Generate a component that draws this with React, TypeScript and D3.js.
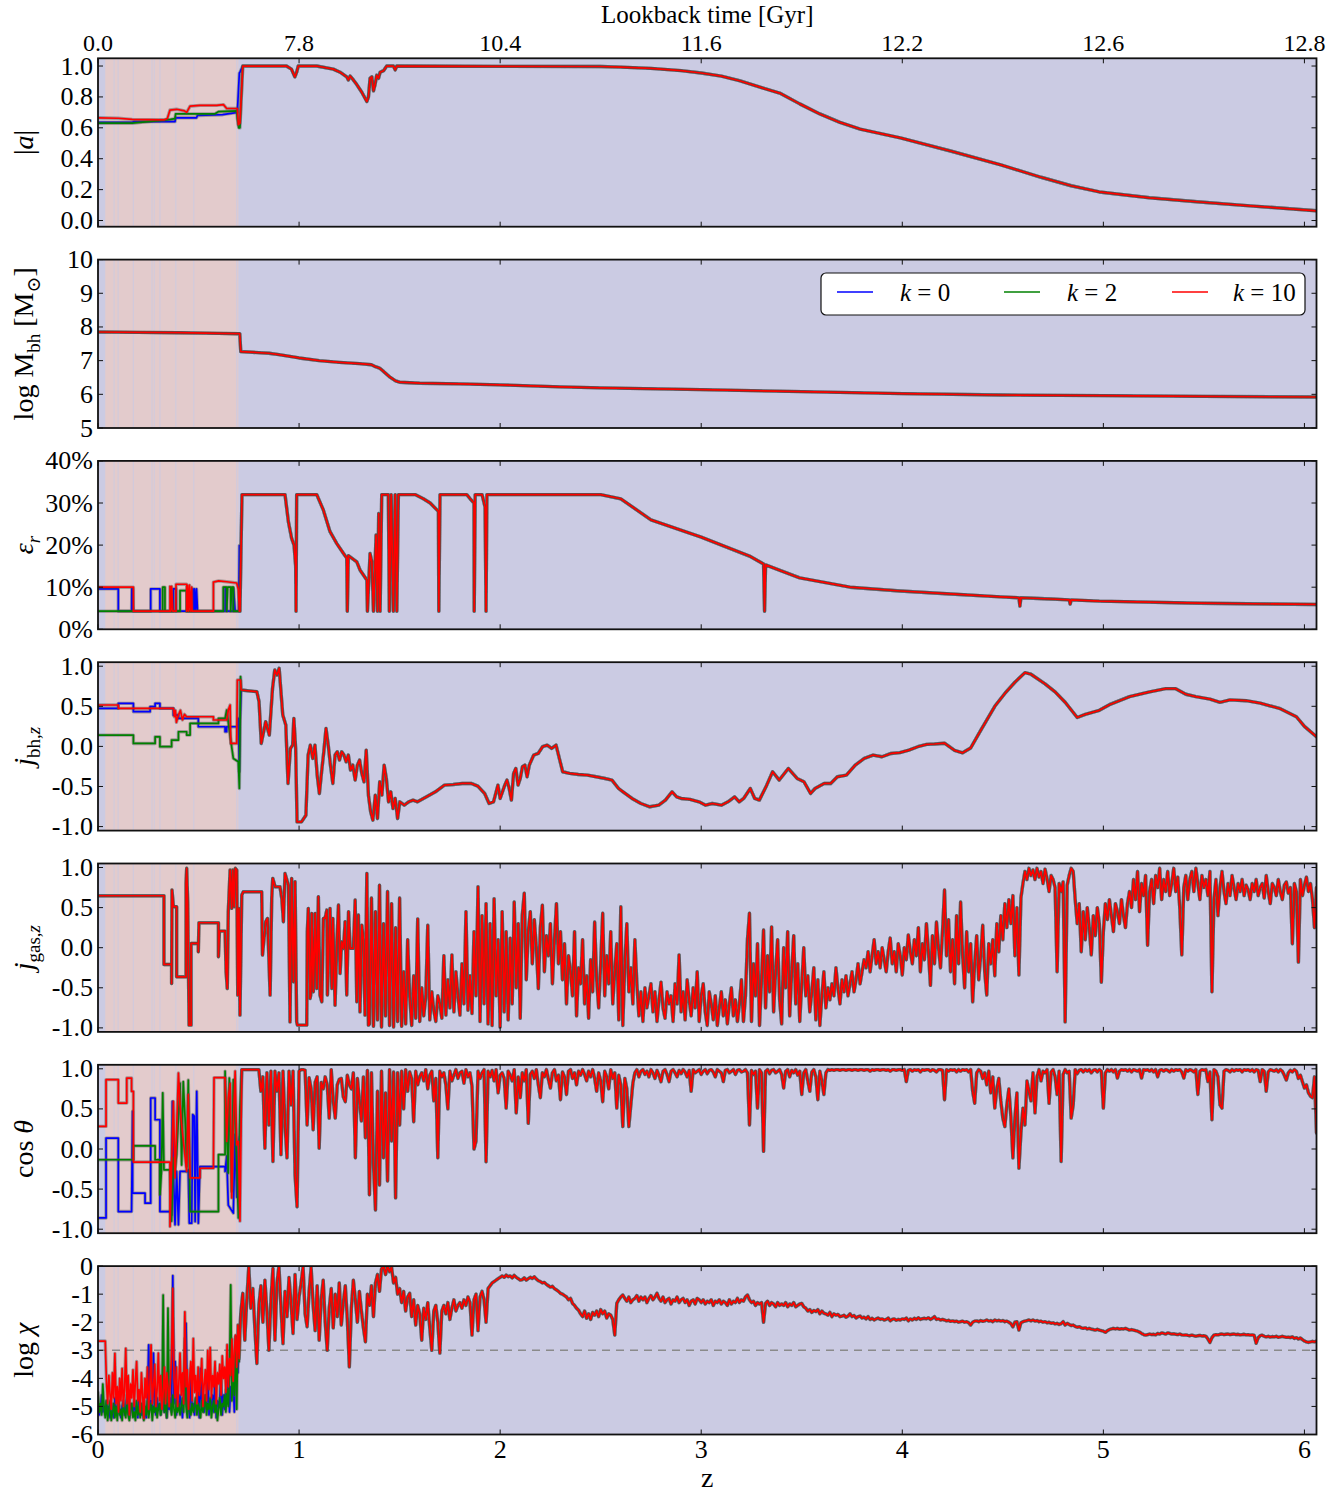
import React from "react";
import * as d3 from "d3";

type Pt = [number, number];

// ---------------------------------------------------------------------------
// Axes
// ---------------------------------------------------------------------------
const zTicks = [0, 1, 2, 3, 4, 5, 6];
const lookbackLabels = ["0.0", "7.8", "10.4", "11.6", "12.2", "12.6", "12.8"];
const zDomain: [number, number] = [0, 6.06];

// shaded epoch (pink) and the thin gaps inside it
const pinkBand: [number, number] = [0.036, 0.698];
const bandGaps = [0.08, 0.1, 0.176, 0.268, 0.28, 0.308, 0.387, 0.476, 0.69];

const kLabels = ["0", "2", "10"];
const kColors = ["#0000ff", "#008000", "#ff0000"];

// helper: values sampled on a regular z grid
const onGrid = (z0: number, dz: number, vals: number[]): Pt[] =>
  vals.map((v, i) => [z0 + i * dz, v] as Pt);

// ---------------------------------------------------------------------------
// |a| : spin magnitude
// ---------------------------------------------------------------------------
const spinTicks = [0, 0.2, 0.4, 0.6, 0.8, 1.0];
const spinK0: Pt[] = [[0, 0.635], [0.17, 0.635], [0.18, 0.64], [0.383, 0.64], [0.386, 0.665], [0.49, 0.665], [0.495, 0.68], [0.62, 0.685], [0.67, 0.695], [0.693, 0.7], [0.703, 0.955], [0.706, 0.96]];
const spinK2: Pt[] = [[0, 0.63], [0.17, 0.63], [0.25, 0.64], [0.33, 0.65], [0.36, 0.655], [0.383, 0.66], [0.386, 0.69], [0.58, 0.69], [0.6, 0.705], [0.69, 0.71], [0.693, 0.66], [0.7, 0.6], [0.706, 0.6]];
const spinK10: Pt[] = [[0, 0.665], [0.1, 0.662], [0.17, 0.655], [0.33, 0.652], [0.345, 0.66], [0.358, 0.715], [0.391, 0.72], [0.43, 0.71], [0.441, 0.7], [0.458, 0.74], [0.507, 0.745], [0.59, 0.745], [0.624, 0.75], [0.64, 0.725], [0.693, 0.725], [0.698, 0.62], [0.706, 0.63]];
const spinLate: Pt[] = [[0.72, 1.0], [0.937, 1.0], [0.962, 0.98], [0.979, 0.93], [0.988, 0.96], [0.996, 1.0], [1.087, 1.0], [1.17, 0.98], [1.204, 0.96], [1.237, 0.93], [1.245, 0.91], [1.254, 0.935], [1.27, 0.91], [1.287, 0.88], [1.312, 0.83], [1.337, 0.77], [1.345, 0.8], [1.353, 0.92], [1.362, 0.93], [1.37, 0.84], [1.378, 0.88], [1.386, 0.94], [1.395, 0.92], [1.403, 0.96], [1.42, 0.97], [1.436, 1.0], [1.469, 1.0], [1.478, 0.975], [1.486, 1.0], [2.0, 0.998], [2.5, 0.997], [2.6, 0.993], [2.75, 0.985], [2.9, 0.97], [3.0, 0.955], [3.1, 0.935], [3.19, 0.905], [3.3, 0.86], [3.39, 0.825], [3.49, 0.755], [3.59, 0.69], [3.69, 0.635], [3.79, 0.592], [3.99, 0.535], [4.24, 0.45], [4.49, 0.36], [4.69, 0.28], [4.84, 0.225], [4.98, 0.185], [5.23, 0.147], [5.48, 0.12], [5.73, 0.095], [6.06, 0.063]];

// ---------------------------------------------------------------------------
// log M_bh
// ---------------------------------------------------------------------------
const massTicks = [5, 6, 7, 8, 9, 10];
const massEarly: Pt[] = [[0, 7.85], [0.2, 7.84], [0.4, 7.83], [0.6, 7.81], [0.7, 7.8], [0.705, 7.8]];
const massLate: Pt[] = [[0.71, 7.27], [0.85, 7.22], [0.9, 7.18], [1.0, 7.08], [1.1, 7.0], [1.2, 6.95], [1.3, 6.91], [1.36, 6.88], [1.38, 6.82], [1.4, 6.78], [1.42, 6.68], [1.45, 6.52], [1.48, 6.4], [1.5, 6.36], [1.6, 6.33], [1.8, 6.31], [2.0, 6.28], [2.3, 6.22], [2.5, 6.19], [3.0, 6.14], [3.5, 6.08], [4.0, 6.02], [4.5, 5.98], [5.0, 5.96], [5.5, 5.94], [6.06, 5.92]];

// ---------------------------------------------------------------------------
// epsilon_r (%)
// ---------------------------------------------------------------------------
const effTicks = [0, 10, 20, 30, 40];
const effK0: Pt[] = [[0, 9.6], [0.101, 9.6], [0.101, 4.3], [0.167, 4.3], [0.168, 9.6], [0.172, 9.6], [0.176, 4.3], [0.262, 4.3], [0.262, 9.6], [0.308, 9.6], [0.308, 4.3], [0.375, 4.3], [0.375, 9.6], [0.388, 9.6], [0.388, 4.3], [0.471, 4.3], [0.472, 9.6], [0.476, 4.3], [0.48, 9.6], [0.485, 4.3], [0.49, 9.6], [0.495, 4.3], [0.632, 4.3], [0.633, 9.8], [0.64, 4.3], [0.673, 4.3], [0.674, 9.8], [0.682, 4.3], [0.7, 4.3], [0.703, 19.9], [0.706, 4.3]];
const effK2: Pt[] = [[0, 4.3], [0.322, 4.3], [0.322, 10], [0.333, 10], [0.333, 4.3], [0.408, 4.3], [0.408, 9.2], [0.441, 9.2], [0.441, 4.3], [0.623, 4.3], [0.623, 10], [0.64, 10], [0.64, 4.3], [0.645, 10], [0.66, 10], [0.66, 4.3], [0.665, 10], [0.673, 10], [0.673, 4.3], [0.706, 4.3]];
const effK10: Pt[] = [[0, 10], [0.176, 10], [0.176, 4.3], [0.358, 4.3], [0.358, 10.2], [0.362, 4.3], [0.366, 10.2], [0.372, 4.3], [0.388, 4.3], [0.388, 10.7], [0.441, 10.7], [0.441, 4.3], [0.445, 10.5], [0.45, 4.3], [0.455, 10.5], [0.46, 4.3], [0.466, 10], [0.468, 4.3], [0.574, 4.3], [0.574, 11.2], [0.6, 11.5], [0.64, 11.3], [0.69, 11], [0.698, 9.5], [0.703, 4.3], [0.706, 4.3]];
const effLate: Pt[] = [[0.716, 32], [0.93, 32], [0.947, 25.5], [0.963, 21.6], [0.975, 20], [0.983, 15], [0.985, 4.3], [0.988, 32], [1.088, 32], [1.121, 28.3], [1.154, 23.2], [1.187, 20.4], [1.221, 18], [1.237, 16.9], [1.24, 4.3], [1.245, 17.5], [1.287, 16], [1.303, 14.1], [1.337, 11.7], [1.34, 4.3], [1.353, 18], [1.362, 16], [1.37, 4.3], [1.383, 22.4], [1.39, 4.3], [1.396, 27.5], [1.403, 4.3], [1.411, 32], [1.444, 32], [1.449, 4.3], [1.458, 32], [1.469, 4.3], [1.478, 32], [1.486, 4.3], [1.494, 32], [1.577, 32], [1.618, 31], [1.652, 30], [1.693, 28], [1.695, 4.3], [1.701, 32], [1.834, 32], [1.851, 31], [1.87, 30], [1.871, 4.3], [1.876, 32], [1.91, 32], [1.925, 29], [1.93, 4.3], [1.934, 32], [2.5, 32], [2.6, 31], [2.75, 26], [3.0, 21.9], [3.24, 17.4], [3.31, 15.5], [3.315, 4.3], [3.32, 15.3], [3.49, 12.2], [3.74, 10], [3.99, 9.1], [4.24, 8.4], [4.49, 7.7], [4.58, 7.5], [4.585, 5.5], [4.59, 7.5], [4.74, 7.2], [4.83, 7.0], [4.835, 6.0], [4.84, 7.0], [4.98, 6.7], [5.48, 6.2], [6.06, 5.9]];

// ---------------------------------------------------------------------------
// j_bh,z
// ---------------------------------------------------------------------------
const unitTicks = [-1, -0.5, 0, 0.5, 1];
const jbhK0: Pt[] = [[0, 0.474], [0.101, 0.474], [0.101, 0.537], [0.176, 0.537], [0.176, 0.433], [0.259, 0.433], [0.259, 0.495], [0.284, 0.495], [0.284, 0.537], [0.308, 0.537], [0.308, 0.474], [0.375, 0.474], [0.375, 0.39], [0.4, 0.39], [0.4, 0.35], [0.499, 0.35], [0.499, 0.245], [0.632, 0.245], [0.632, 0.183], [0.64, 0.183], [0.64, 0.245], [0.695, 0.245], [0.698, 0.35], [0.703, -0.317], [0.706, 0.25]];
const jbhK2: Pt[] = [[0, 0.141], [0.176, 0.141], [0.176, 0.037], [0.284, 0.037], [0.284, 0.12], [0.308, 0.12], [0.308, -0.004], [0.366, -0.004], [0.366, 0.079], [0.4, 0.079], [0.4, 0.183], [0.441, 0.183], [0.441, 0.141], [0.458, 0.141], [0.458, 0.287], [0.599, 0.287], [0.599, 0.349], [0.632, 0.349], [0.64, 0.453], [0.648, 0.3], [0.66, 0.079], [0.673, -0.15], [0.698, -0.192], [0.703, -0.525], [0.709, 0.87]];
const jbhK10: Pt[] = [[0, 0.516], [0.101, 0.516], [0.101, 0.474], [0.375, 0.474], [0.38, 0.37], [0.385, 0.45], [0.39, 0.3], [0.4, 0.39], [0.41, 0.45], [0.42, 0.33], [0.43, 0.4], [0.441, 0.37], [0.574, 0.37], [0.574, 0.329], [0.64, 0.329], [0.648, 0.453], [0.657, 0.516], [0.66, 0.037], [0.69, 0.037], [0.693, 0.828], [0.709, 0.828]];
const jbhLate: Pt[] = [[0.712, 0.703], [0.79, 0.682], [0.801, 0.557], [0.812, 0.037], [0.834, 0.308], [0.852, 0.141], [0.868, 0.724], [0.879, 0.953], [0.89, 0.89], [0.901, 0.974], [0.919, 0.391], [0.934, 0.266], [0.945, -0.462], [0.957, -0.025], [0.968, 0.016], [0.974, 0.349], [0.983, -0.025], [0.99, -0.941], [1.012, -0.941], [1.034, -0.858], [1.045, -0.108], [1.056, 0.016], [1.068, -0.15], [1.079, 0.016], [1.09, -0.358], [1.101, -0.587], [1.112, -0.316], [1.123, -0.067], [1.134, 0.224], [1.145, 0.016], [1.156, -0.233], [1.168, -0.462], [1.179, -0.108], [1.19, -0.067], [1.201, -0.171], [1.212, -0.067], [1.223, -0.108], [1.234, -0.192], [1.245, -0.108], [1.256, -0.296], [1.267, -0.233], [1.279, -0.42], [1.29, -0.233], [1.301, -0.171], [1.312, -0.337], [1.323, -0.441], [1.334, -0.046], [1.345, -0.608], [1.356, -0.816], [1.367, -0.92], [1.379, -0.608], [1.39, -0.899], [1.401, -0.441], [1.412, -0.608], [1.423, -0.233], [1.434, -0.4], [1.445, -0.691], [1.456, -0.566], [1.467, -0.774], [1.478, -0.649], [1.49, -0.899], [1.501, -0.691], [1.523, -0.733], [1.545, -0.691], [1.567, -0.67], [1.589, -0.691], [1.634, -0.629], [1.678, -0.566], [1.723, -0.483], [1.767, -0.475], [1.812, -0.462], [1.856, -0.462], [1.889, -0.495], [1.923, -0.587], [1.945, -0.712], [1.967, -0.691], [1.989, -0.483], [2.0, -0.649], [2.023, -0.483], [2.034, -0.42], [2.045, -0.525], [2.056, -0.67], [2.067, -0.337], [2.078, -0.275], [2.089, -0.483], [2.1, -0.4], [2.111, -0.254], [2.123, -0.233], [2.134, -0.379], [2.145, -0.233], [2.167, -0.108], [2.189, -0.088], [2.211, -0.004], [2.234, 0.016], [2.256, -0.025], [2.278, 0.016], [2.311, -0.316], [2.345, -0.337], [2.389, -0.35], [2.434, -0.358], [2.478, -0.379], [2.522, -0.4], [2.556, -0.42], [2.589, -0.525], [2.611, -0.566], [2.656, -0.649], [2.7, -0.712], [2.744, -0.753], [2.789, -0.733], [2.822, -0.67], [2.855, -0.566], [2.878, -0.629], [2.9, -0.649], [2.944, -0.66], [2.989, -0.691], [3.022, -0.733], [3.055, -0.712], [3.1, -0.733], [3.133, -0.691], [3.166, -0.629], [3.189, -0.691], [3.211, -0.649], [3.244, -0.525], [3.266, -0.649], [3.289, -0.67], [3.322, -0.504], [3.355, -0.316], [3.388, -0.42], [3.433, -0.275], [3.477, -0.4], [3.511, -0.441], [3.544, -0.587], [3.566, -0.525], [3.611, -0.462], [3.644, -0.462], [3.677, -0.379], [3.722, -0.358], [3.766, -0.233], [3.811, -0.15], [3.855, -0.108], [3.899, -0.129], [3.944, -0.088], [3.988, -0.078], [4.033, -0.046], [4.077, -0.004], [4.121, 0.025], [4.16, 0.03], [4.21, 0.04], [4.26, -0.05], [4.3, -0.08], [4.34, -0.02], [4.39, 0.2], [4.46, 0.5], [4.51, 0.66], [4.56, 0.8], [4.61, 0.92], [4.64, 0.9], [4.71, 0.78], [4.76, 0.68], [4.81, 0.55], [4.87, 0.36], [4.91, 0.4], [4.98, 0.45], [5.03, 0.52], [5.13, 0.62], [5.23, 0.68], [5.31, 0.72], [5.36, 0.72], [5.41, 0.65], [5.46, 0.62], [5.53, 0.59], [5.58, 0.55], [5.63, 0.58], [5.71, 0.57], [5.78, 0.54], [5.88, 0.47], [5.96, 0.37], [6.0, 0.25], [6.06, 0.12]];

// ---------------------------------------------------------------------------
// j_gas,z
// ---------------------------------------------------------------------------
const jgasEarly: Pt[] = [[0, 0.648], [0.328, 0.648], [0.328, -0.209], [0.366, -0.209], [0.366, -0.446], [0.368, 0.719], [0.375, 0.511], [0.391, 0.511], [0.391, -0.363], [0.438, -0.363], [0.438, 0.802], [0.441, 0.99], [0.446, 0.573], [0.453, -0.966], [0.463, -0.966], [0.463, 0.053], [0.499, 0.053], [0.499, -0.051], [0.502, 0.311], [0.599, 0.311], [0.599, -0.113], [0.604, 0.207], [0.632, 0.207], [0.637, -0.3], [0.643, -0.509], [0.648, 0.45], [0.657, 0.969], [0.665, 0.49], [0.67, 0.969], [0.677, 0.511], [0.683, 0.99], [0.69, 0.969], [0.695, -0.592], [0.701, 0.49], [0.706, -0.841], [0.715, 0.657]];
const jgasLateA: Pt[] = [[0.723, 0.698], [0.814, 0.698], [0.818, -0.092], [0.826, 0.116], [0.834, 0.324], [0.843, 0.365], [0.856, -0.592], [0.864, 0.615], [0.869, 0.865], [0.881, 0.76], [0.905, 0.76], [0.914, 0.615], [0.922, 0.324], [0.93, 0.927], [0.947, 0.78], [0.955, -0.925], [0.963, 0.865], [0.972, -0.425], [0.98, 0.823], [0.988, -0.925], [0.992, -0.966], [1.038, -0.966], [1.041, 0.199], [1.046, 0.49], [1.055, -0.633], [1.058, -0.59], [1.063, 0.428], [1.071, -0.55], [1.08, 0.428], [1.088, -0.509], [1.096, 0.636], [1.104, -0.59], [1.113, -0.675], [1.121, 0.365], [1.129, 0.365], [1.138, 0.469], [1.141, -0.59], [1.154, 0.49], [1.163, -0.509], [1.168, 0.365], [1.179, -0.717], [1.188, 0.074], [1.196, 0.532], [1.204, -0.321], [1.212, 0.074], [1.221, -0.009], [1.229, 0.324], [1.237, -0.59], [1.246, 0.449], [1.254, -0.009], [1.27, -0.009], [1.279, 0.594], [1.287, -0.675], [1.295, 0.407], [1.303, -0.8], [1.312, 0.282], [1.32, 0.095], [1.328, -0.841], [1.337, 0.927], [1.345, -0.966]];
const jgasLateB = [
  -0.95, 0.62, -0.98, 0.45, -0.9, 0.78, -0.99, 0.3, -0.85, 0.7,
  -0.97, 0.55, -0.99, 0.25, -0.92, 0.62, -0.98, -0.3, -0.95, 0.1,
  -0.6, -0.97, -0.35, -0.88, 0.36, -0.92, -0.5, -0.85, -0.62, 0.28,
  -0.9, -0.55, -0.78, -0.92, -0.6, -0.7, -0.88, -0.1, -0.84, -0.4,
  -0.75, -0.09, -0.8, -0.3, -0.6, -0.84, -0.2, -0.7, 0.45, -0.78,
  -0.35, -0.82, 0.2, -0.6, 0.76, -0.92, 0.4, -0.7, 0.55, -0.95,
  0.3, -0.97, 0.61, -0.6, 0.1, -0.99, 0.45, -0.8, 0.2, -0.9,
  0.12, -0.7, 0.57, -0.5, 0.3, -0.88, 0.4, 0.68, -0.4, 0.2,
  0.45, -0.2, 0.35, 0.0, -0.51, 0.25, 0.53, -0.3, 0.15, -0.1,
  0.3, -0.45, 0.1, 0.55, -0.2, 0.2, -0.4, 0.05, -0.7, -0.1,
  -0.3, -0.6, 0.2, -0.85, -0.25, -0.45, 0.1, -0.7, -0.35, -0.88,
  -0.15, -0.55, 0.32, -0.4, -0.75, -0.2, 0.43, -0.6, -0.1, -0.45,
  0.2, -0.7, -0.3, 0.05, -0.9, 0.51, -0.97, -0.2, 0.3, -0.55,
  -0.25, -0.7, 0.1, -0.45, -0.85, -0.55, -0.92, -0.5, -0.75, -0.6,
  -0.45, -0.8, -0.55, -0.92, -0.65, -0.43, -0.75, -0.88, -0.55, -0.7,
  -0.6, -0.92, -0.45, -0.7, -0.09, -0.8, -0.55, -0.9, -0.4, -0.65,
  -0.85, -0.5, -0.75, -0.3, -0.92, -0.6, -0.45, -0.8, -0.97, -0.55,
  -0.7, -0.9, -0.6, -0.97, -0.75, -0.55, -0.85, -0.65, -0.95, -0.7,
  -0.5, -0.85, -0.65, -0.92, -0.7, -0.4, -0.92, -0.6, 0.1, 0.43,
  -0.92, -0.2, -0.6, 0.05, -0.97, -0.4, 0.22, -0.75, -0.1, -0.55,
  0.26, -0.8, -0.3, 0.1, -0.65, -0.95, 0.0, -0.5, 0.2, -0.85,
  -0.3, 0.15, -0.7, -0.2, -0.92, -0.45, 0.0, -0.6, -0.35, -0.8,
  -0.55, -0.25, -0.9, -0.4, -0.97, -0.6, -0.3, -0.75, -0.5, -0.65,
  -0.45, -0.6, -0.25, -0.5, -0.7, -0.4, -0.55, -0.35, -0.6, -0.45,
  -0.3, -0.55, -0.4, -0.2, -0.45, -0.3, -0.15, -0.25, -0.05, -0.3,
  -0.1, 0.1, -0.2, -0.05, -0.25, 0.0, -0.15, -0.3, -0.05, 0.12,
  -0.2, -0.05, -0.3, 0.05, -0.1, -0.34, 0.0, -0.15, 0.16, -0.05,
  -0.2, 0.1, -0.1, 0.25, -0.3, 0.05, -0.15, 0.3, -0.05, -0.47,
  0.15, -0.2, 0.32, 0.0, -0.25, 0.2, 0.72, -0.1, 0.35, -0.3,
  0.1, -0.45, 0.4, -0.2, 0.57, -0.1, -0.5, 0.2, -0.3, 0.05,
  -0.675, -0.2, 0.15, -0.4, -0.1, 0.28, -0.3, -0.59, 0.05, -0.2,
  0.1, -0.35, 0.3, -0.05, 0.4, 0.1, 0.55, 0.25, 0.6, 0.3,
  0.65, -0.1, 0.5, -0.34, 0.62, 0.8, 0.95, 0.85, 0.99, 0.9,
  0.97, 0.85, 0.99, 0.88, 0.95, 0.8, 0.98, 0.86, 0.7, 0.9,
  0.85, 0.75, -0.3, 0.8, 0.7, 0.82, -0.925, 0.78, 0.9, 0.99,
  0.95, 0.6, 0.3, 0.55, -0.05, 0.45, 0.1, 0.5, 0.25, -0.09,
  0.4, 0.15, 0.5, 0.3, -0.43, 0.2, 0.55, 0.35, 0.6, 0.4,
  0.2, 0.55, 0.45, 0.3, 0.6, 0.4, 0.25, 0.55, 0.7, 0.5,
  0.85, 0.6, 0.95, 0.45, 0.8, 0.65, 0.9, 0.03, 0.7, 0.85,
  0.55, 0.9, 0.75, 0.99, 0.6, 0.85, 0.7, 0.95, 0.65, 0.8,
  0.99, 0.7, 0.88, 0.5, -0.09, 0.75, 0.9, 0.6, 0.85, 0.95,
  0.7, 0.99, 0.8, 0.6, 0.9, 0.75, 0.85, 0.65, 0.95, -0.55,
  0.6, 0.85, 0.4, 0.75, 0.95, 0.7, 0.55, 0.8, 0.65, 0.9,
  0.75, 0.6, 0.8, 0.7, 0.85, 0.65, 0.78, 0.72, 0.6, 0.8,
  0.7, 0.85, 0.65, 0.75, 0.8, 0.62, 0.9, 0.7, 0.55, 0.8,
  0.75, 0.65, 0.85, 0.7, 0.6, 0.78, 0.82, 0.68, 0.75, 0.05,
  0.8, 0.7, -0.18, 0.85, 0.65, 0.78, 0.88, 0.7, 0.8, 0.6, 0.25, 0.75,
];

// ---------------------------------------------------------------------------
// cos theta
// ---------------------------------------------------------------------------
const cosK0: Pt[] = [[0, -0.86], [0.04, -0.86], [0.04, 0.136], [0.101, 0.136], [0.101, -0.78], [0.167, -0.78], [0.172, 0.47], [0.172, -0.55], [0.234, -0.55], [0.234, -0.675], [0.262, -0.675], [0.262, 0.636], [0.284, 0.636], [0.284, 0.365], [0.308, 0.365], [0.308, -0.78], [0.366, -0.78], [0.366, -0.82], [0.37, 0.594], [0.375, -0.28], [0.383, -0.945], [0.391, -0.28], [0.4, -0.945], [0.408, -0.28], [0.449, -0.28], [0.449, -0.26], [0.454, -0.925], [0.466, -0.925], [0.471, 0.43], [0.479, 0.41], [0.483, -0.905], [0.491, 0.72], [0.499, -0.925], [0.507, -0.22], [0.632, -0.22], [0.632, -0.28], [0.64, -0.09], [0.648, -0.7], [0.673, -0.8], [0.682, 0.18], [0.69, -0.6], [0.698, 0.05], [0.706, 0.18]];
const cosK2: Pt[] = [[0, -0.134], [0.176, -0.134], [0.176, 0.04], [0.284, 0.04], [0.284, -0.134], [0.308, -0.134], [0.308, -0.57], [0.316, -0.26], [0.322, 0.7], [0.328, -0.26], [0.358, -0.26], [0.366, -0.9], [0.375, -0.113], [0.383, -0.26], [0.391, -0.07], [0.408, 0.82], [0.416, -0.2], [0.424, 0.84], [0.433, 0.385], [0.441, -0.22], [0.449, 0.86], [0.458, -0.78], [0.599, -0.78], [0.599, -0.07], [0.632, -0.07], [0.632, 0.97], [0.64, 0.18], [0.648, -0.3], [0.653, 0.885], [0.665, -0.53], [0.673, 0.865], [0.69, -0.155], [0.698, -0.86], [0.706, 0.5]];
const cosK10: Pt[] = [[0, 0.282], [0.04, 0.282], [0.04, 0.865], [0.101, 0.865], [0.101, 0.573], [0.143, 0.573], [0.143, 0.885], [0.167, 0.885], [0.167, 0.719], [0.176, 0.719], [0.176, -0.163], [0.358, -0.163], [0.358, -0.967], [0.366, -0.2], [0.375, 0.594], [0.383, -0.36], [0.391, 0.24], [0.4, 0.948], [0.408, 0.55], [0.416, 0.3], [0.441, -0.28], [0.449, 0.68], [0.458, -0.36], [0.507, -0.36], [0.507, -0.24], [0.574, -0.24], [0.577, 0.89], [0.632, 0.89], [0.632, 0.84], [0.64, 0.095], [0.648, 0.635], [0.657, 0.82], [0.665, -0.61], [0.673, 0.3], [0.682, 0.97], [0.69, 0.05], [0.698, 0.095], [0.706, -0.9]];
const cosLateA: Pt[] = [[0.715, 0.99], [0.8, 0.99]];
const cosLateB = [
  0.72, 0.9, 0.01, 0.95, 0.3, 0.97, -0.155, 0.97, 0.72, 0.95,
  -0.07, 0.97, 0.3, -0.11, 0.97, 0.55, 0.97, -0.32, -0.72, 0.97,
  0.99, 0.99, 0.98, 0.3, 0.89, 0.75, 0.24, 0.83, 0.9, 0.01,
  0.83, 0.75, 0.9, 0.8, 0.385, 0.99, 0.6, 0.385, 0.8, 0.87,
  0.88, 0.65, 0.59, 0.92, 0.8, 0.75, 0.95, -0.11, 0.88, 0.6,
  0.35, 0.9, 0.14, 0.98, -0.57, 0.95, -0.2, -0.76, 0.72, -0.45,
  0.97, -0.11, 0.7, -0.4, 0.99, 0.1, 0.96, -0.61, 0.95, 0.3,
  0.97, 0.5, 0.99, 0.72, 0.96, 0.88, 0.34, 0.97, 0.8, 0.9,
  0.95, 0.85, 0.99, 0.75, 0.92, 0.97, 0.6, 0.88, -0.11, 0.97,
  0.9, 0.95, 0.8, 0.5, 0.97, 0.85, 0.92, 0.99, 0.88, 0.95,
  0.97, 0.82, 0.99, 0.9, 0.95, 0.78, 0.0, 0.1, 0.97, 0.88,
  0.95, 0.99, -0.16, 0.97, 0.9, 0.98, 0.85, 0.99, 0.7, 0.92,
  0.95, 0.88, 0.51, 0.97, 0.92, 0.85, 0.99, 0.45, 0.9, 0.64,
  0.95, 0.85, 0.99, 0.32, 0.93, 0.97, 0.88, 0.99, 0.8, 0.64,
  0.95, 0.9, 0.99, 0.87, 0.76, 0.95, 0.99, 0.85, 0.92, 0.615,
  0.96, 0.9, 0.68, 0.97, 0.99, 0.88, 0.95, 0.8, 0.97, 0.92,
  0.99, 0.93, 0.85, 0.97, 0.9, 0.99, 0.88, 0.72, 0.95, 0.85,
  0.59, 0.97, 0.9, 0.75, 0.99, 0.88, 0.95, 0.51, 0.92, 0.8,
  0.28, 0.88, 0.75, 0.28, 0.55, 0.82, 0.95, 0.99, 0.9, 0.97,
  0.99, 0.93, 0.97, 0.9, 0.99, 0.95, 0.88, 0.98, 0.92, 0.84,
  0.97, 0.99, 0.93, 0.84, 0.97, 0.99, 0.95, 0.9, 0.98, 0.94,
  0.99, 0.96, 0.9, 0.98, 0.72, 0.99, 0.95, 0.97, 0.99, 0.93,
  0.97, 0.99, 0.94, 0.98, 0.99, 0.96, 0.9, 0.99, 0.97, 0.95,
  0.84, 0.98, 0.99, 0.95, 0.97, 0.99, 0.93, 0.98, 0.99, 0.96,
  0.97, 0.99, 0.95, 0.3, 0.98, 0.93, 0.97, 0.51, 0.99, 0.95,
  -0.03, 0.97, 0.99, 0.94, 0.98, 0.99, 0.95, 0.97, 0.99, 0.93,
  0.76, 0.97, 0.99, 0.9, 0.98, 0.95, 0.99, 0.92, 0.97, 0.68,
  0.95, 0.99, 0.85, 0.72, 0.96, 0.99, 0.9, 0.615, 0.97, 0.85,
  0.68, 0.95, 0.99, 0.98, 0.99, 0.98, 0.99, 0.99, 0.98, 0.99,
  0.99, 0.98, 0.99, 0.99, 0.98, 0.99, 0.99, 0.98, 0.99, 0.99,
  0.98, 0.99, 0.99, 0.97, 0.99, 0.98, 0.99, 0.99, 0.98, 0.99,
  0.99, 0.98, 0.99, 0.97, 0.99, 0.99, 0.98, 0.99, 0.99, 0.98,
  0.99, 0.84, 0.98, 0.99, 0.97, 0.99, 0.98, 0.99, 0.96, 0.99,
  0.98, 0.99, 0.99, 0.97, 0.99, 0.98, 0.96, 0.99, 0.99, 0.98,
  0.615, 0.99, 0.97, 0.99, 0.98, 0.99, 0.96, 0.99, 0.97, 0.99,
  0.98, 0.99, 0.96, 0.99, 0.72, 0.57, 0.95, 0.99, 0.97, 0.88,
  0.95, 0.8, 0.97, 0.7, 0.9, 0.51, 0.75, 0.88, 0.6, 0.385,
  0.28, 0.55, 0.75, 0.4, -0.11, 0.385, 0.7, -0.24, 0.2, 0.51,
  0.3, 0.85, 0.72, 0.6, 0.95, 0.45, 0.9, 0.99, 0.85, 0.97,
  0.95, 0.99, 0.57, 0.96, 0.99, 0.9, 0.68, 0.97, -0.155, 0.93,
  0.99, 0.95, 0.97, 0.385, 0.55, 0.99, 0.94, 0.98, 0.99, 0.96,
  0.99, 0.97, 0.99, 0.95, 0.98, 0.99, 0.96, 0.99, 0.97, 0.51,
  0.95, 0.99, 0.97, 0.99, 0.96, 0.99, 0.885, 0.97, 0.99, 0.98,
  0.99, 0.97, 0.99, 0.96, 0.99, 0.98, 0.97, 0.99, 0.885, 0.99,
  0.98, 0.99, 0.97, 0.99, 0.96, 0.99, 0.9, 0.98, 0.99, 0.97,
  0.99, 0.98, 0.96, 0.99, 0.97, 0.99, 0.98, 0.99, 0.96, 0.885,
  0.99, 0.97, 0.99, 0.98, 0.96, 0.99, 0.68, 0.97, 0.99, 0.98,
  0.99, 0.84, 0.96, 0.365, 0.99, 0.97, 0.9, 0.55, 0.51, 0.97,
  0.99, 0.98, 0.96, 0.99, 0.97, 0.99, 0.98, 0.99, 0.96, 0.99,
  0.98, 0.99, 0.97, 0.99, 0.96, 0.99, 0.98, 0.84, 0.99, 0.97,
  0.72, 0.96, 0.99, 0.98, 0.97, 0.99, 0.96, 0.99, 0.97, 0.92,
  0.86, 0.95, 0.98, 0.96, 0.99, 0.97, 0.88, 0.92, 0.84, 0.76,
  0.8, 0.7, 0.66, 0.64, 0.9, 0.2,
];

// ---------------------------------------------------------------------------
// log chi
// ---------------------------------------------------------------------------
const chiTicks = [-6, -5, -4, -3, -2, -1, 0];
const chiThreshold = -3;
const chiEarlyK0 = [
  -4.9, -5.3, -5.1, -4.6, -5.2, -5.0, -5.3, -4.8, -5.2, -5.0,
  -5.4, -4.9, -5.2, -5.4, -4.7, -5.1, -5.3, -4.9, -5.2, -5.4,
  -5.0, -4.8, -5.3, -5.1, -4.6, -5.2, -5.4, -4.9, -5.1, -5.3,
  -4.8, -5.2, -5.0, -5.4, -4.7, -5.1, -5.3, -5.0, -4.8, -5.2,
  -5.4, -4.9, -2.81, -5.1, -4.8, -5.2, -3.1, -5.0, -5.3, -4.7,
  -5.1, -4.9, -5.3, -4.6, -5.0, -5.2, -4.8, -5.4, -4.9, -5.1,
  -4.7, -5.2, -0.34, -4.9, -3.4, -5.3, -4.8, -5.1, -4.6, -5.0,
  -5.4, -4.7, -4.2, -2.04, -5.2, -4.8, -5.4, -3.65, -5.0, -4.9,
  -5.3, -4.7, -5.1, -4.5, -5.4, -3.65, -5.0, -4.8, -5.2, -4.6,
  -5.1, -3.7, -5.3, -4.9, -5.0, -4.6, -5.2, -3.9, -5.4, -4.8,
  -5.0, -4.7, -3.9, -5.3, -4.6, -5.1, -4.4, -4.9, -3.8, -5.2,
  -4.3, -4.6, -4.0, -5.2, -3.2, -2.5, -3.8, -2.5,
];
const chiEarlyK2 = [
  -4.5, -5.2, -4.9, -5.3, -4.2, -5.0, -5.4, -4.8, -5.5, -5.1,
  -4.8, -5.5, -5.2, -4.9, -5.4, -5.0, -5.5, -4.7, -5.3, -5.1,
  -5.5, -4.9, -5.2, -5.4, -4.8, -5.3, -5.5, -5.0, -4.9, -5.4,
  -5.2, -5.5, -4.8, -5.3, -5.0, -5.4, -4.9, -5.2, -5.5, -5.0,
  -5.3, -4.8, -5.4, -5.1, -4.9, -5.5, -5.0, -5.2, -4.7, -5.4,
  -5.1, -4.9, -5.3, -5.0, -1.03, -5.2, -4.8, -5.4, -1.5, -5.0,
  -4.9, -5.3, -4.6, -5.1, -5.4, -4.8, -5.2, -4.9, -5.3, -5.0,
  -4.7, -5.2, -2.58, -5.0, -5.4, -4.8, -5.1, -5.3, -4.9, -5.2,
  -5.0, -4.7, -5.3, -4.9, -5.1, -5.4, -4.8, -5.2, -5.0, -4.6,
  -5.3, -4.9, -5.1, -4.7, -5.4, -5.0, -4.8, -5.2, -4.9, -5.5,
  -5.1, -4.7, -5.3, -4.9, -5.0, -4.6, -5.2, -4.4, -5.0, -3.9,
  -0.67, -4.8, -3.5, -4.6, -2.5, -5.1, -2.1, -3.4,
];
const chiEarlyK10 = [
  -2.67, -2.67, -2.67, -2.67, -2.67, -2.67, -2.67, -4.1, -4.9, -3.9,
  -4.6, -5.1, -3.8, -4.7, -3.11, -4.9, -4.3, -5.2, -4.0, -4.8,
  -3.65, -5.0, -4.4, -2.93, -4.9, -3.9, -5.3, -4.2, -4.7, -3.7,
  -5.0, -4.1, -3.4, -4.8, -4.4, -5.2, -3.8, -4.6, -5.43, -4.0,
  -4.7, -3.6, -5.1, -4.2, -2.81, -4.9, -4.3, -3.5, -5.0, -4.4,
  -3.1, -4.8, -3.9, -5.1, -4.5, -3.6, -4.9, -3.8, -4.3, -5.0,
  -4.1, -3.2, -0.79, -4.0, -4.7, -3.6, -5.0, -4.2, -3.1, -4.6,
  -3.8, -4.9, -1.63, -4.3, -3.7, -5.1, -4.0, -3.4, -4.8, -2.58,
  -4.5, -3.9, -4.9, -3.6, -4.6, -4.1, -3.3, -5.0, -4.2, -3.7,
  -4.8, -3.0, -4.4, -2.9, -4.7, -3.9, -4.3, -3.4, -4.9, -3.8,
  -4.2, -3.5, -4.6, -3.2, -4.0, -3.6, -4.5, -2.8, -4.3, -3.3,
  -3.9, -2.6, -4.1, -3.0, -2.46, -3.6, -2.1, -3.3,
];
const chiLate = [
  -1.68, -0.97, -2.64, -1.2, 0.0, -1.5, -0.8, -2.2, -3.47, -1.4,
  -0.7, -2.0, -0.5, -1.6, -3.0, -1.2, -0.08, -2.64, -0.6, 0.0,
  -1.5, -2.76, -0.9, -1.8, -0.4, -1.3, -2.4, -0.3, -1.9, -1.1,
  -0.6, -0.02, -1.7, -2.16, -0.9, -0.05, -1.4, -2.3, -0.7, -2.64,
  -1.2, -0.5, -2.0, -3.0, -1.5, -0.8, -2.2, -1.0, -1.8, -0.6,
  -2.1, -1.3, -0.7, -1.9, -3.59, -1.5, -0.5, -1.2, -2.0, -0.9,
  -1.6, -2.2, -2.7, -1.0, -1.4, -0.7, -1.8, -0.6, -0.3, -0.9,
  -0.1, 0.0, -0.3, 0.0, -0.2, -0.05, -0.6, -0.4, -1.0, -0.8,
  -1.3, -0.9, -1.6, -1.1, -0.97, -1.8, -1.2, -2.1, -1.4, -1.7,
  -2.64, -1.5, -1.9, -1.3, -2.2, -3.0, -1.6, -1.4, -2.0, -3.1,
  -1.6, -1.4, -1.7, -1.3, -1.9, -1.5, -1.2, -1.6, -1.4, -1.3,
  -1.5, -1.2, -1.4, -1.1, -1.3, -2.46, -1.2, -1.0, -2.3, -1.1,
  -0.9, -1.2, -2.0, -0.8, -0.7, -0.6, -0.55, -0.5, -0.45, -0.4,
  -0.35, -0.4, -0.32, -0.38, -0.35, -0.42, -0.33, -0.4, -0.45, -0.5,
  -0.48, -0.42, -0.5, -0.45, -0.4, -0.44, -0.38, -0.46, -0.52, -0.55,
  -0.6, -0.58, -0.65, -0.7, -0.75, -0.72, -0.8, -0.85, -0.9, -0.97,
  -1.0, -1.05, -1.1, -1.2, -1.15, -1.33, -1.4, -1.5, -1.57, -1.7,
  -1.8, -1.6, -1.86, -1.7, -1.9, -1.65, -1.75, -1.6, -1.8, -1.55,
  -1.7, -1.6, -1.85, -1.7, -1.75, -1.9, -2.46, -1.33, -1.2, -1.1,
  -1.03, -1.15, -1.25, -1.1, -1.3, -1.2, -1.15, -1.05, -1.25, -1.1,
  -1.2, -1.1, -1.3, -1.15, -1.05, -1.2, -1.1, -0.97, -1.15, -1.25,
  -1.1, -1.3, -1.2, -1.15, -1.35, -1.2, -1.25, -1.1, -1.3, -1.2,
  -1.15, -1.3, -1.2, -1.4, -1.25, -1.2, -1.35, -1.15, -1.2, -1.3,
  -1.2, -1.35, -1.25, -1.3, -1.2, -1.4, -1.25, -1.3, -1.2, -1.35,
  -1.25, -1.3, -1.4, -1.2, -1.35, -1.25, -1.3, -1.15, -1.3, -1.2,
  -1.25, -1.1, -1.03, -1.2, -1.3, -1.25, -1.4, -1.3, -1.35, -1.3,
  -2.0, -1.33, -1.25, -1.4, -1.3, -1.35, -1.45, -1.3, -1.4, -1.35,
  -1.4, -1.3, -1.45, -1.35, -1.4, -1.3, -1.45, -1.4, -1.35, -1.33,
  -1.45, -1.5, -1.6, -1.55, -1.65, -1.58, -1.62, -1.55, -1.7, -1.6,
  -1.68, -1.7, -1.75, -1.65, -1.8, -1.7, -1.75, -1.72, -1.8, -1.78,
  -1.75, -1.82, -1.78, -1.7, -1.8, -1.76, -1.85, -1.8, -1.78, -1.85,
  -1.82, -1.88, -1.8, -1.9, -1.86, -1.92, -1.88, -1.85, -1.9, -1.88,
  -1.92, -1.9, -1.85, -1.95, -1.9, -1.88, -1.93, -1.9, -1.92, -1.88,
  -1.9, -1.85, -1.95, -1.88, -1.92, -1.86, -1.9, -1.84, -1.9, -1.87,
  -1.86, -1.88, -1.84, -1.9, -1.86, -1.8, -1.9, -1.88, -1.92, -1.9,
  -1.92, -1.95, -1.93, -1.97, -1.95, -1.98, -1.96, -2.0, -1.98, -1.96,
  -2.0, -1.98, -2.02, -2.1, -2.0, -1.96, -1.95, -1.98, -1.94, -1.97,
  -1.95, -1.92, -1.96, -1.94, -1.98, -1.92, -1.95, -1.93, -1.96, -1.94,
  -1.98, -1.96, -2.0, -2.05, -2.16, -2.0, -1.98, -2.28, -2.02, -1.98,
  -1.96, -1.94, -1.92, -1.95, -1.92, -1.96, -1.94, -1.98, -1.96, -2.0,
  -1.98, -2.02, -2.0, -2.04, -2.02, -2.06, -2.04, -2.08, -2.05, -1.98,
  -2.1, -2.04, -2.08, -2.12, -2.1, -2.15, -2.18, -2.16, -2.2, -2.22,
  -2.2, -2.24, -2.22, -2.25, -2.26, -2.28, -2.25, -2.28, -2.3, -2.32,
  -2.36, -2.3, -2.26, -2.24, -2.22, -2.24, -2.22, -2.25, -2.23, -2.24,
  -2.22, -2.25, -2.28, -2.26, -2.28, -2.3, -2.32, -2.35, -2.4, -2.44,
  -2.46, -2.44, -2.42, -2.44, -2.43, -2.45, -2.4, -2.42, -2.38, -2.4,
  -2.42, -2.38, -2.4, -2.42, -2.41, -2.43, -2.44, -2.42, -2.45, -2.46,
  -2.45, -2.47, -2.48, -2.46, -2.48, -2.5, -2.48, -2.47, -2.49, -2.48,
  -2.5, -2.6, -2.72, -2.55, -2.46, -2.44, -2.45, -2.43, -2.42, -2.44,
  -2.43, -2.42, -2.44, -2.43, -2.42, -2.44, -2.43, -2.45, -2.44, -2.43,
  -2.45, -2.44, -2.46, -2.45, -2.47, -2.75, -2.55, -2.48, -2.46, -2.5,
  -2.52, -2.5, -2.53, -2.51, -2.52, -2.5, -2.54, -2.52, -2.5, -2.52,
  -2.54, -2.53, -2.55, -2.52, -2.58, -2.55, -2.6, -2.56, -2.62, -2.67,
  -2.7, -2.72, -2.7, -2.68, -2.7, -2.67,
];

// ---------------------------------------------------------------------------
// Layout
// ---------------------------------------------------------------------------
const WIDTH = 1342;
const HEIGHT = 1495;
const PLOT_LEFT = 98;
const PLOT_RIGHT = 1316.5;
const PANEL_TOP0 = 58.3;
const PANEL_H = 168.4;
const PANEL_STEP = 201.3;
const TICK = 5;
const FONT = "'Liberation Serif', 'DejaVu Serif', 'Times New Roman', serif";
const TICK_FONT = 26;
const LABEL_FONT = 28;

const BG = "#cbcbe3";
const PINK = "#e3cbcc";

type PanelDef = {
  id: string;
  domain: [number, number];
  ticks: number[];
  fmt: (v: number) => string;
  label: React.ReactNode;
  traces: Pt[][];
  threshold?: number;
};

const fixed1 = (v: number) => v.toFixed(1);
const sub = (s: React.ReactNode, italic = false) => (
  <tspan dy={7} fontSize={19} fontStyle={italic ? "italic" : "normal"}>{s}</tspan>
);

function Trace({ pts, color, x, y }: { pts: Pt[]; color: string; x: d3.ScaleLinear<number, number>; y: d3.ScaleLinear<number, number> }) {
  const d = d3.line<Pt>().x((p) => x(p[0])).y((p) => y(p[1]))(pts) ?? "";
  return (
    <g>
      <path d={d} fill="none" stroke="#4a4a4a" strokeOpacity={0.42} strokeWidth={3.4} strokeLinejoin="round" strokeLinecap="round" />
      <path d={d} fill="none" stroke={color} strokeWidth={1.7} strokeLinejoin="round" strokeLinecap="round" />
    </g>
  );
}

export default function App() {
  const x = d3.scaleLinear().domain(zDomain).range([PLOT_LEFT, PLOT_RIGHT]);

  const panels: PanelDef[] = [
    {
      id: "spin",
      domain: [-0.04, 1.05],
      ticks: spinTicks,
      fmt: fixed1,
      label: (<>|<tspan fontStyle="italic">a</tspan>|</>),
      traces: [spinK0, spinK2, spinK10].map((e) => e.concat(spinLate)),
    },
    {
      id: "mass",
      domain: [5, 10],
      ticks: massTicks,
      fmt: (v) => String(v),
      label: (<>log M{sub("bh")}<tspan dy={-7}>{"  [M"}</tspan>{sub("⊙")}<tspan dy={-7}>]</tspan></>),
      traces: [massEarly, massEarly, massEarly].map((e) => e.concat(massLate)),
    },
    {
      id: "eff",
      domain: [0, 40],
      ticks: effTicks,
      fmt: (v) => `${v}%`,
      label: (<><tspan fontStyle="italic">ε</tspan>{sub("r", true)}</>),
      traces: [effK0, effK2, effK10].map((e) => e.concat(effLate)),
    },
    {
      id: "jbh",
      domain: [-1.05, 1.05],
      ticks: unitTicks,
      fmt: fixed1,
      label: (<><tspan fontStyle="italic">j</tspan>{sub("bh,")}<tspan fontSize={19} fontStyle="italic">z</tspan></>),
      traces: [jbhK0, jbhK2, jbhK10].map((e) => e.concat(jbhLate)),
    },
    {
      id: "jgas",
      domain: [-1.05, 1.05],
      ticks: unitTicks,
      fmt: fixed1,
      label: (<><tspan fontStyle="italic">j</tspan>{sub("gas,")}<tspan fontSize={19} fontStyle="italic">z</tspan></>),
      traces: [0, 1, 2].map(() => jgasEarly.concat(jgasLateA, onGrid(1.35, 0.01, jgasLateB))),
    },
    {
      id: "cos",
      domain: [-1.05, 1.05],
      ticks: unitTicks,
      fmt: fixed1,
      label: (<>cos <tspan fontStyle="italic">θ</tspan></>),
      traces: [cosK0, cosK2, cosK10].map((e) => e.concat(cosLateA, onGrid(0.81, 0.01, cosLateB))),
    },
    {
      id: "chi",
      domain: [-6, 0],
      ticks: chiTicks,
      fmt: (v) => String(v),
      label: (<>log <tspan fontStyle="italic">χ</tspan></>),
      traces: [chiEarlyK0, chiEarlyK2, chiEarlyK10].map((e) =>
        onGrid(0, 0.006, e).concat(onGrid(0.71, 0.01, chiLate))
      ),
      threshold: chiThreshold,
    },
  ];

  return (
    <svg
      width={WIDTH}
      height={HEIGHT}
      viewBox={`0 0 ${WIDTH} ${HEIGHT}`}
      style={{ position: "absolute", left: 0, top: 0, background: "#fff" }}
      fontFamily={FONT}
    >
      <defs>
        {panels.map((p, i) => {
          const top = PANEL_TOP0 + i * PANEL_STEP;
          return (
            <clipPath key={p.id} id={`clip-${p.id}`}>
              <rect x={PLOT_LEFT} y={top} width={PLOT_RIGHT - PLOT_LEFT} height={PANEL_H} />
            </clipPath>
          );
        })}
      </defs>

      {/* top axis title and lookback-time labels */}
      <text x={(PLOT_LEFT + PLOT_RIGHT) / 2} y={23} fontSize={25} textAnchor="middle">
        Lookback time [Gyr]
      </text>
      {zTicks.map((t, i) => (
        <text key={`lb${t}`} x={x(t)} y={51} fontSize={24} textAnchor="middle">
          {lookbackLabels[i]}
        </text>
      ))}

      {panels.map((p, i) => {
        const top = PANEL_TOP0 + i * PANEL_STEP;
        const bottom = top + PANEL_H;
        const y = d3.scaleLinear().domain(p.domain).range([bottom, top]);
        return (
          <g key={p.id}>
            <g clipPath={`url(#clip-${p.id})`}>
              <rect x={PLOT_LEFT} y={top} width={PLOT_RIGHT - PLOT_LEFT} height={PANEL_H} fill={BG} />
              <rect x={x(pinkBand[0])} y={top} width={x(pinkBand[1]) - x(pinkBand[0])} height={PANEL_H} fill={PINK} />
              {bandGaps.map((g) => (
                <rect key={g} x={x(g) - 0.6} y={top} width={1.2} height={PANEL_H} fill={BG} opacity={0.7} />
              ))}
              {p.threshold !== undefined && (
                <line x1={PLOT_LEFT} x2={PLOT_RIGHT} y1={y(p.threshold)} y2={y(p.threshold)} stroke="#8a8a8a" strokeWidth={1.6} strokeDasharray="8 6" />
              )}
              {p.traces.map((pts, k) => (
                <Trace key={k} pts={pts} color={kColors[k]} x={x} y={y} />
              ))}
            </g>

            {/* ticks on all four sides, pointing inward */}
            {zTicks.map((t) => (
              <g key={`xt${t}`} stroke="#111" strokeWidth={1}>
                <line x1={x(t)} x2={x(t)} y1={top} y2={top + TICK} />
                <line x1={x(t)} x2={x(t)} y1={bottom} y2={bottom - TICK} />
              </g>
            ))}
            {p.ticks.map((t) => (
              <g key={`yt${t}`}>
                <line x1={PLOT_LEFT} x2={PLOT_LEFT + TICK} y1={y(t)} y2={y(t)} stroke="#111" strokeWidth={1} />
                <line x1={PLOT_RIGHT} x2={PLOT_RIGHT - TICK} y1={y(t)} y2={y(t)} stroke="#111" strokeWidth={1} />
                <text x={PLOT_LEFT - 5} y={y(t)} fontSize={TICK_FONT} textAnchor="end" dominantBaseline="central">
                  {p.fmt(t)}
                </text>
              </g>
            ))}
            <rect x={PLOT_LEFT} y={top} width={PLOT_RIGHT - PLOT_LEFT} height={PANEL_H} fill="none" stroke="#111" strokeWidth={1.8} />

            <text transform={`translate(33, ${(top + bottom) / 2}) rotate(-90)`} fontSize={LABEL_FONT} textAnchor="middle">
              {p.label}
            </text>

            {p.id === "mass" && (
              <g>
                <rect x={821} y={273} width={484} height={42} rx={5} fill="#fff" stroke="#111" strokeWidth={1.2} />
                {kLabels.map((k, j) => {
                  const lx = [837, 1004, 1172][j];
                  const tx = [900, 1067, 1233][j];
                  return (
                    <g key={k}>
                      <line x1={lx} x2={lx + 36} y1={292} y2={292} stroke={kColors[j]} strokeWidth={1.5} />
                      <text x={tx} y={301} fontSize={25}>
                        <tspan fontStyle="italic">k</tspan>
                        {` = ${k}`}
                      </text>
                    </g>
                  );
                })}
              </g>
            )}
          </g>
        );
      })}

      {/* bottom z axis labels */}
      {zTicks.map((t) => (
        <text key={`bz${t}`} x={x(t)} y={1458} fontSize={TICK_FONT} textAnchor="middle">
          {t}
        </text>
      ))}
      <text x={(PLOT_LEFT + PLOT_RIGHT) / 2} y={1487} fontSize={LABEL_FONT} textAnchor="middle">
        z
      </text>
    </svg>
  );
}
